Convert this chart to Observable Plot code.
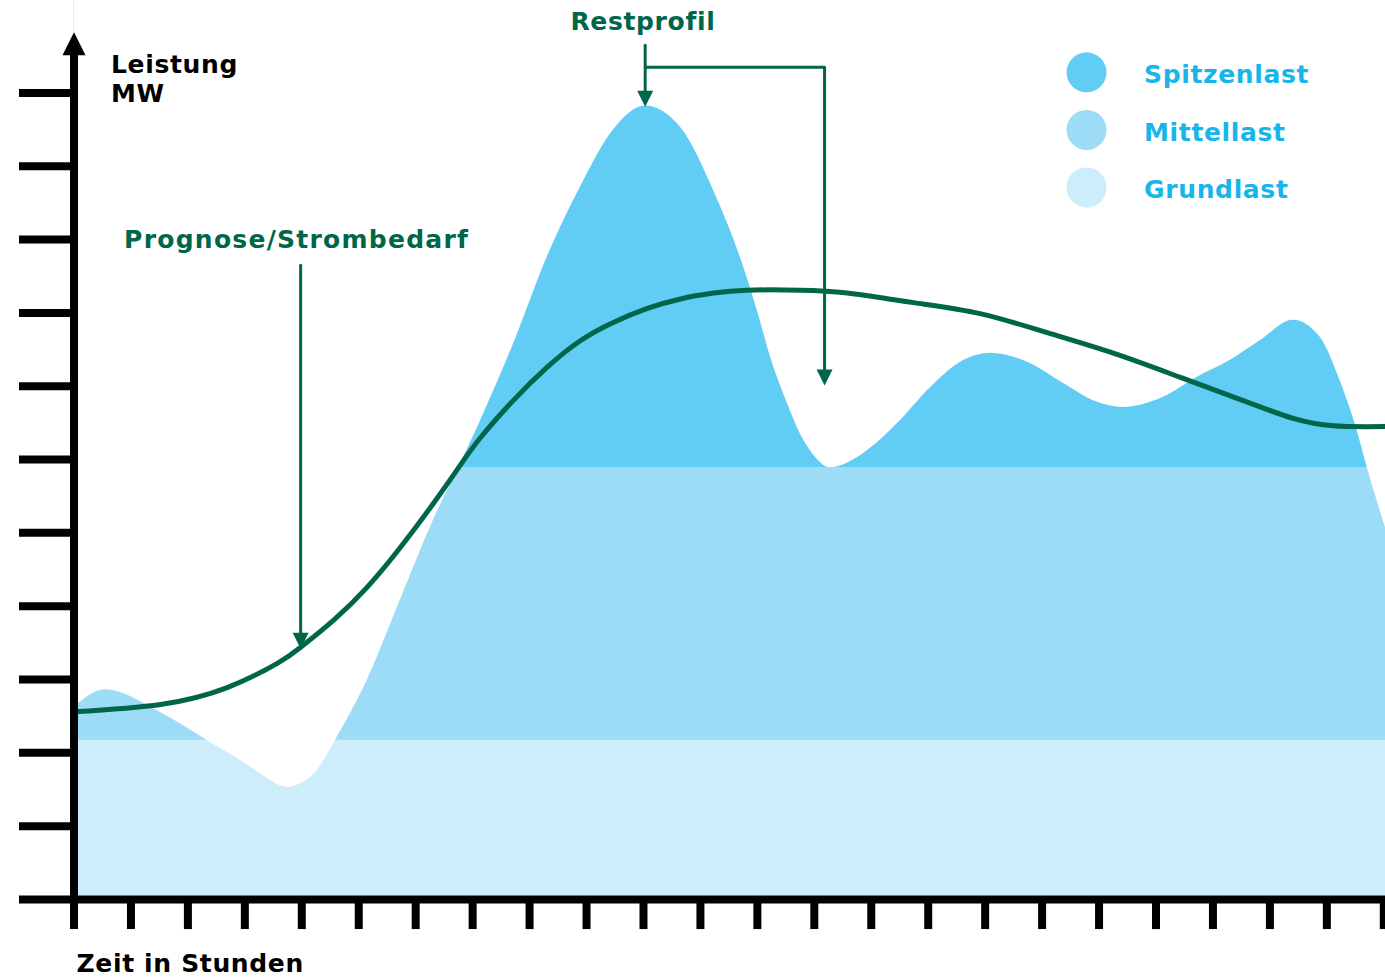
<!DOCTYPE html>
<html><head><meta charset="utf-8">
<script src="https://cdn.jsdelivr.net/npm/d3@7"></script>
<script src="https://cdn.jsdelivr.net/npm/@observablehq/plot@0.6"></script>
<style>html,body{margin:0;padding:0;background:#fff;} #chart svg{display:block}</style>
</head><body><div id="chart"></div>
<script>
// Restprofil (residual load), hours vs. MW units
const restHours = [0, 0.55, 1.52, 2.34, 2.92, 3.27, 3.75, 3.98, 4.24, 4.59, 5.15, 5.73, 6.31, 6.73, 7.14, 7.72, 8.31, 8.89, 9.47, 10.03, 10.65, 11.23, 11.70, 12.00, 12.23, 12.53, 12.76, 12.98, 13.28, 13.86, 14.46, 15.04, 15.62, 16.09, 16.79, 17.37, 17.97, 18.42, 19.13, 19.72, 20.30, 20.83, 21.41, 21.88, 22.23, 22.53, 22.71, 23.03];
const restValues = [2.62, 2.86, 2.55, 2.17, 1.90, 1.72, 1.53, 1.58, 1.73, 2.17, 2.99, 4.08, 5.17, 5.85, 6.53, 7.58, 8.76, 9.71, 10.49, 10.82, 10.53, 9.67, 8.76, 8.03, 7.40, 6.76, 6.34, 6.07, 5.89, 6.08, 6.49, 6.98, 7.35, 7.45, 7.31, 7.04, 6.78, 6.71, 6.85, 7.12, 7.35, 7.62, 7.90, 7.67, 7.08, 6.40, 5.89, 5.07];
// Prognose / Strombedarf
const prognoseHours = [0, 1.52, 2.69, 3.57, 3.98, 4.56, 5.15, 5.73, 6.31, 6.79, 7.14, 7.72, 8.31, 8.89, 9.47, 10.07, 10.65, 11.23, 11.82, 12.75, 13.58, 14.74, 15.91, 17.09, 18.25, 19.43, 20.65, 21.41, 22.11, 23.03];
const prognoseValues = [2.56, 2.66, 2.89, 3.22, 3.44, 3.81, 4.26, 4.80, 5.40, 5.93, 6.30, 6.81, 7.26, 7.62, 7.87, 8.06, 8.19, 8.27, 8.31, 8.31, 8.27, 8.14, 7.99, 7.73, 7.45, 7.12, 6.77, 6.56, 6.46, 6.45];
// Load bands
const bandNames = ["Grundlast", "Mittellast", "Spitzenlast"];
const bandLower = [0, 2.17, 5.89];
const bandUpper = [2.17, 5.89, 12.26];
const legendOrder = ["Spitzenlast", "Mittellast", "Grundlast"];
const xTicks = d3.range(0, 24);
const yTicks = d3.range(1, 12);

const rest = restHours.map((h, i) => ({h, v: restValues[i]}));
const prognose = prognoseHours.map((h, i) => ({h, v: prognoseValues[i]}));
const bands = bandNames.map((name, i) => ({name, lo: bandLower[i], hi: bandUpper[i]}));

const GREEN = "#00664a";
const LEGEND_TEXT = "#17b5e9";
const FONT = {fontFamily: "DejaVu Sans", fontWeight: "bold", fontSize: 25};

const headUp = {draw(ctx, size) { const r = Math.sqrt(size / Math.PI); ctx.moveTo(0, -r); ctx.lineTo(r, r); ctx.lineTo(-r, r); ctx.closePath(); }};
const headDown = {draw(ctx, size) { const r = Math.sqrt(size / Math.PI); ctx.moveTo(0, r); ctx.lineTo(r, -r); ctx.lineTo(-r, -r); ctx.closePath(); }};

const chart = Plot.plot({
  width: 1385, height: 978,
  marginLeft: 73.5, marginRight: 0, marginTop: 0, marginBottom: 79,
  x: {domain: [0, 23.03], axis: null},
  y: {domain: [0, 12.26], axis: null},
  color: {domain: bandNames, range: ["#cdedfa", "#9cdcf6", "#62cdf4"]},
  style: {background: "white", fontFamily: "DejaVu Sans"},
  marks: [
    Plot.rect(bands, {x1: 0, x2: 23.03, y1: "lo", y2: "hi", fill: "name"}),
    Plot.areaY(rest, {x: "h", y1: "v", y2: 12.26, fill: "white", curve: "monotone-x"}),
    Plot.line(prognose, {x: "h", y: "v", stroke: GREEN, strokeWidth: 5, curve: "natural"}),
    // axes
    Plot.ruleY(yTicks, {x1: -0.957, x2: 0, stroke: "#000", strokeWidth: 8}),
    Plot.ruleX(xTicks, {y1: 0, y2: -0.41, stroke: "#000", strokeWidth: 8}),
    Plot.ruleY([0], {x1: -0.957, x2: 23.03, stroke: "#000", strokeWidth: 8}),
    Plot.ruleX([0], {y1: -0.06, y2: 11.55, stroke: "#000", strokeWidth: 8}),
    Plot.dot([0], {x: 0, y: 11.67, r: 11.5, symbol: headUp, fill: "#000"}),
    // annotation pointers
    Plot.line([[10.03, 11.65], [10.03, 11.0]], {stroke: GREEN, strokeWidth: 3}),
    Plot.line([[10.03, 11.35], [13.18, 11.35], [13.18, 7.2]], {stroke: GREEN, strokeWidth: 3}),
    Plot.line([[3.98, 8.65], [3.98, 3.6]], {stroke: GREEN, strokeWidth: 3}),
    Plot.dot([0], {x: 10.03, y: 10.92, r: 8, symbol: headDown, fill: GREEN}),
    Plot.dot([0], {x: 13.18, y: 7.12, r: 8, symbol: headDown, fill: GREEN}),
    Plot.dot([0], {x: 3.98, y: 3.53, r: 8, symbol: headDown, fill: GREEN}),
    // texts
    Plot.text(["Restprofil"], {x: 9.99, y: 11.86, text: d => d, textAnchor: "middle", lineAnchor: "bottom", fill: GREEN, ...FONT}),
    Plot.text(["Prognose/Strombedarf"], {x: 0.88, y: 8.89, text: d => d, textAnchor: "start", lineAnchor: "bottom", fill: GREEN, ...FONT}),
    Plot.text(["Leistung\nMW"], {x: 0.65, y: 10.87, text: d => d, textAnchor: "start", lineAnchor: "bottom", lineHeight: 1.16, fill: "#000", ...FONT}),
    Plot.text(["Zeit in Stunden"], {x: 0.045, y: -0.99, text: d => d, textAnchor: "start", lineAnchor: "bottom", fill: "#000", ...FONT}),
    // legend
    Plot.dot(legendOrder, {x: 17.78, y: (d, i) => 11.28 - i * 0.785, r: 20, fill: d => d}),
    Plot.text(legendOrder, {x: 18.79, y: (d, i) => 11.13 - i * 0.78, text: d => d, textAnchor: "start", lineAnchor: "bottom", fill: LEGEND_TEXT, ...FONT})
  ]
});
d3.select(chart).selectAll("text").style("letter-spacing", function() {
  return this.textContent.startsWith("Prognose") ? "1.25px" : "0.65px";
});
document.getElementById("chart").append(chart);
</script>
</body></html>
